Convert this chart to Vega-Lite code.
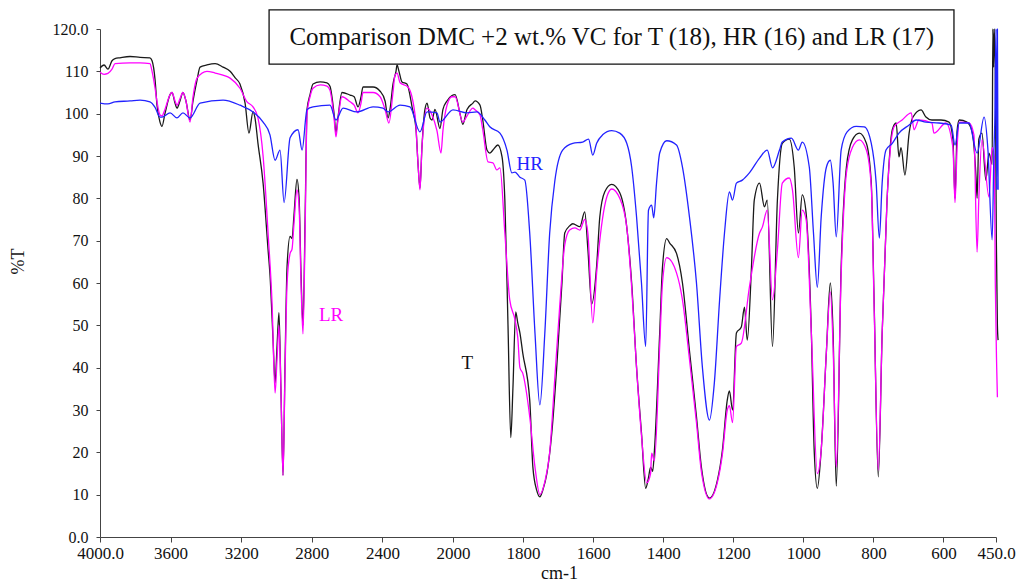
{
  "$schema": "https://vega.github.io/schema/vega-lite/v6.json",
  "autosize": {"type": "none"},
  "padding": {"left": 100, "top": 29, "right": 33, "bottom": 48},
  "width": 896,
  "height": 508,
  "background": "white",
  "config": {
    "font": "Liberation Serif",
    "view": {"stroke": null},
    "axis": {"grid": false, "domainColor": "#444444", "tickColor": "#444444", "labelColor": "#111111", "titleColor": "#111111", "labelFont": "Liberation Serif", "titleFont": "Liberation Serif", "titleFontWeight": "normal"}
  },
  "datasets": {
    "T": [
      {"w":4000,"v":110.8},{"w":3977,"v":111.5},{"w":3955,"v":110.5},{"w":3932,"v":112.5},{"w":3915,"v":113},{"w":3887,"v":113.2},{"w":3830,"v":113.5},{"w":3773,"v":113.3},{"w":3717,"v":113.2},{"w":3705,"v":112.5},{"w":3688,"v":108},{"w":3677,"v":102},{"w":3660,"v":98},{"w":3649,"v":97},{"w":3632,"v":100},{"w":3603,"v":104.5},{"w":3592,"v":105},{"w":3575,"v":102.5},{"w":3564,"v":101.3},{"w":3547,"v":103},{"w":3530,"v":105},{"w":3513,"v":103},{"w":3490,"v":98.5},{"w":3473,"v":103},{"w":3450,"v":108},{"w":3433,"v":111},{"w":3394,"v":111.5},{"w":3348,"v":111.8},{"w":3303,"v":111},{"w":3263,"v":110},{"w":3235,"v":108.5},{"w":3207,"v":107},{"w":3178,"v":102.5},{"w":3156,"v":95.4},{"w":3133,"v":100.5},{"w":3122,"v":99},{"w":3105,"v":93},{"w":3076,"v":83.6},{"w":3048,"v":68},{"w":3037,"v":62},{"w":3020,"v":47},{"w":3008,"v":36.4},{"w":2997,"v":45},{"w":2986,"v":53},{"w":2975,"v":35},{"w":2963,"v":14.6},{"w":2952,"v":40},{"w":2940,"v":64},{"w":2923,"v":71},{"w":2912,"v":70.5},{"w":2901,"v":76},{"w":2884,"v":84.5},{"w":2872,"v":80},{"w":2861,"v":62},{"w":2850,"v":50},{"w":2838,"v":75},{"w":2827,"v":101},{"w":2810,"v":104.5},{"w":2793,"v":107},{"w":2753,"v":107.5},{"w":2714,"v":107.3},{"w":2697,"v":106.5},{"w":2674,"v":100},{"w":2663,"v":95.5},{"w":2652,"v":99},{"w":2629,"v":105},{"w":2583,"v":104.4},{"w":2560,"v":104},{"w":2538,"v":101.6},{"w":2521,"v":104},{"w":2510,"v":106.3},{"w":2453,"v":106.3},{"w":2413,"v":105.3},{"w":2385,"v":103},{"w":2368,"v":99},{"w":2357,"v":101},{"w":2340,"v":107},{"w":2323,"v":110},{"w":2317,"v":111.5},{"w":2306,"v":110},{"w":2289,"v":107.5},{"w":2261,"v":107},{"w":2232,"v":101.6},{"w":2209,"v":96},{"w":2198,"v":88},{"w":2187,"v":82.4},{"w":2176,"v":92},{"w":2159,"v":101},{"w":2147,"v":102.5},{"w":2130,"v":99},{"w":2119,"v":98.5},{"w":2102,"v":101},{"w":2074,"v":96.5},{"w":2057,"v":101},{"w":2034,"v":103},{"w":2006,"v":104.3},{"w":1994,"v":104.5},{"w":1980,"v":100},{"w":1972,"v":97.5},{"w":1960,"v":101},{"w":1943,"v":102.5},{"w":1937,"v":103},{"w":1923,"v":102},{"w":1915,"v":98.5},{"w":1903,"v":91.4},{"w":1895,"v":90.7},{"w":1886,"v":91.4},{"w":1872,"v":92.6},{"w":1860,"v":89.8},{"w":1852,"v":79.6},{"w":1843,"v":50},{"w":1835,"v":23.5},{"w":1829,"v":35},{"w":1821,"v":53.2},{"w":1815,"v":50.5},{"w":1809,"v":48.2},{"w":1801,"v":43.5},{"w":1781,"v":32.4},{"w":1772,"v":16.5},{"w":1761,"v":11},{"w":1752,"v":9.5},{"w":1744,"v":11},{"w":1732,"v":15},{"w":1718,"v":24.6},{"w":1704,"v":40},{"w":1689,"v":60},{"w":1681,"v":71.8},{"w":1667,"v":73.5},{"w":1658,"v":74},{"w":1638,"v":73.3},{"w":1624,"v":76.8},{"w":1615,"v":68},{"w":1604,"v":55},{"w":1590,"v":64},{"w":1581,"v":75.6},{"w":1567,"v":81.5},{"w":1547,"v":83.3},{"w":1524,"v":81.3},{"w":1504,"v":73.2},{"w":1490,"v":60},{"w":1476,"v":40},{"w":1462,"v":24.6},{"w":1450,"v":11.5},{"w":1442,"v":14},{"w":1436,"v":16.5},{"w":1430,"v":15.5},{"w":1425,"v":20.5},{"w":1410,"v":48.2},{"w":1402,"v":63.8},{"w":1390,"v":70.5},{"w":1382,"v":69.5},{"w":1362,"v":67},{"w":1345,"v":60},{"w":1325,"v":44},{"w":1305,"v":28.4},{"w":1291,"v":16.5},{"w":1268,"v":9.2},{"w":1245,"v":13.5},{"w":1231,"v":20.5},{"w":1217,"v":32.4},{"w":1211,"v":34.5},{"w":1202,"v":30},{"w":1191,"v":48.2},{"w":1177,"v":49.6},{"w":1168,"v":54.3},{"w":1160,"v":46.5},{"w":1148,"v":63.8},{"w":1140,"v":79.6},{"w":1125,"v":83.6},{"w":1111,"v":78},{"w":1103,"v":79.6},{"w":1088,"v":45},{"w":1074,"v":79.6},{"w":1060,"v":93},{"w":1040,"v":94},{"w":1026,"v":87.4},{"w":1014,"v":71.8},{"w":1003,"v":80.8},{"w":992,"v":76.5},{"w":977,"v":48},{"w":969,"v":20.5},{"w":960,"v":11.5},{"w":949,"v":20.5},{"w":934,"v":44},{"w":923,"v":60},{"w":915,"v":48},{"w":906,"v":12},{"w":892,"v":63.8},{"w":877,"v":87.4},{"w":860,"v":93.8},{"w":840,"v":95.4},{"w":820,"v":93},{"w":806,"v":83.6},{"w":798,"v":56},{"w":786,"v":14.2},{"w":775,"v":48},{"w":761,"v":79.6},{"w":746,"v":96.2},{"w":735,"v":97.8},{"w":727,"v":89.8},{"w":721,"v":92},{"w":710,"v":85.5},{"w":698,"v":95.4},{"w":687,"v":99.2},{"w":664,"v":100.9},{"w":650,"v":99.2},{"w":633,"v":98.5},{"w":607,"v":98.5},{"w":584,"v":98},{"w":573,"v":94},{"w":567,"v":80},{"w":561,"v":96},{"w":555,"v":98.5},{"w":533,"v":98},{"w":519,"v":96},{"w":507,"v":85},{"w":504,"v":80},{"w":499,"v":94},{"w":490,"v":95.4},{"w":479,"v":84.3},{"w":470,"v":90.7},{"w":461,"v":88},{"w":459,"v":120},{"w":457,"v":111},{"w":455,"v":120},{"w":452,"v":110},{"w":449,"v":70},{"w":446,"v":50},{"w":444,"v":46.5}
    ],
    "LR": [
      {"w":4000,"v":109.8},{"w":3977,"v":109.3},{"w":3955,"v":109.5},{"w":3932,"v":110.5},{"w":3915,"v":111.8},{"w":3830,"v":112},{"w":3773,"v":112},{"w":3717,"v":111.8},{"w":3705,"v":110},{"w":3688,"v":106},{"w":3677,"v":102.8},{"w":3660,"v":99.7},{"w":3649,"v":99.5},{"w":3632,"v":101},{"w":3603,"v":104.5},{"w":3592,"v":105},{"w":3575,"v":103},{"w":3564,"v":102},{"w":3547,"v":103.5},{"w":3530,"v":105},{"w":3513,"v":103},{"w":3490,"v":98},{"w":3473,"v":104},{"w":3450,"v":108.4},{"w":3394,"v":110},{"w":3348,"v":109.6},{"w":3263,"v":108.4},{"w":3207,"v":106},{"w":3167,"v":102.8},{"w":3133,"v":101.6},{"w":3105,"v":99},{"w":3076,"v":90},{"w":3048,"v":72},{"w":3025,"v":55},{"w":3008,"v":34},{"w":2997,"v":42},{"w":2986,"v":50},{"w":2975,"v":35},{"w":2963,"v":14.5},{"w":2952,"v":38},{"w":2940,"v":60},{"w":2923,"v":67},{"w":2912,"v":68},{"w":2901,"v":74},{"w":2884,"v":82},{"w":2872,"v":78},{"w":2861,"v":60},{"w":2850,"v":48},{"w":2838,"v":72},{"w":2827,"v":100},{"w":2810,"v":104},{"w":2793,"v":106},{"w":2753,"v":106.8},{"w":2714,"v":106.5},{"w":2697,"v":105.5},{"w":2674,"v":99},{"w":2663,"v":94.5},{"w":2652,"v":98.5},{"w":2629,"v":104},{"w":2583,"v":102.8},{"w":2560,"v":102},{"w":2538,"v":100.2},{"w":2521,"v":102.5},{"w":2510,"v":105},{"w":2453,"v":105},{"w":2413,"v":104},{"w":2385,"v":101},{"w":2363,"v":97.8},{"w":2340,"v":105},{"w":2329,"v":109},{"w":2317,"v":109.6},{"w":2300,"v":107.3},{"w":2255,"v":106.3},{"w":2215,"v":99.7},{"w":2198,"v":88},{"w":2187,"v":82},{"w":2176,"v":92},{"w":2147,"v":101.3},{"w":2119,"v":99.7},{"w":2091,"v":96},{"w":2068,"v":90.7},{"w":2057,"v":96},{"w":2034,"v":102},{"w":2006,"v":104},{"w":1994,"v":104},{"w":1972,"v":98},{"w":1960,"v":99.5},{"w":1943,"v":101.3},{"w":1937,"v":100.9},{"w":1923,"v":99.7},{"w":1915,"v":96.2},{"w":1900,"v":88.6},{"w":1886,"v":88.4},{"w":1875,"v":86.7},{"w":1866,"v":87.2},{"w":1852,"v":71.8},{"w":1838,"v":56},{"w":1823,"v":51.3},{"w":1815,"v":47},{"w":1809,"v":40},{"w":1801,"v":38.7},{"w":1781,"v":28.4},{"w":1766,"v":16.5},{"w":1752,"v":10},{"w":1738,"v":13},{"w":1724,"v":20},{"w":1709,"v":38},{"w":1695,"v":55},{"w":1681,"v":69},{"w":1667,"v":72.5},{"w":1652,"v":73},{"w":1638,"v":72.5},{"w":1624,"v":75},{"w":1615,"v":71.8},{"w":1601,"v":50.6},{"w":1590,"v":62.4},{"w":1561,"v":80.3},{"w":1547,"v":82.2},{"w":1524,"v":80},{"w":1504,"v":73.2},{"w":1490,"v":59},{"w":1476,"v":40},{"w":1462,"v":24},{"w":1447,"v":12.8},{"w":1436,"v":15},{"w":1433,"v":19.8},{"w":1425,"v":18},{"w":1410,"v":45},{"w":1402,"v":60},{"w":1390,"v":66},{"w":1362,"v":62.4},{"w":1345,"v":56},{"w":1325,"v":42},{"w":1305,"v":27},{"w":1291,"v":15.5},{"w":1268,"v":9},{"w":1245,"v":13},{"w":1231,"v":19.5},{"w":1217,"v":30},{"w":1211,"v":31},{"w":1202,"v":27},{"w":1191,"v":45},{"w":1177,"v":45.8},{"w":1154,"v":59},{"w":1125,"v":71.8},{"w":1117,"v":73.2},{"w":1103,"v":77.2},{"w":1088,"v":56},{"w":1074,"v":67.8},{"w":1060,"v":83.6},{"w":1040,"v":84.8},{"w":1031,"v":82},{"w":1014,"v":66},{"w":1003,"v":77.2},{"w":992,"v":75},{"w":977,"v":48},{"w":960,"v":15},{"w":949,"v":20.5},{"w":934,"v":44},{"w":923,"v":57.9},{"w":915,"v":45},{"w":906,"v":16.5},{"w":892,"v":62},{"w":877,"v":86},{"w":860,"v":92},{"w":840,"v":93.8},{"w":820,"v":91.4},{"w":806,"v":82.7},{"w":798,"v":55},{"w":786,"v":15.8},{"w":775,"v":48},{"w":761,"v":79.6},{"w":741,"v":96.9},{"w":718,"v":98.5},{"w":692,"v":100.2},{"w":684,"v":96.2},{"w":670,"v":98.5},{"w":633,"v":97.8},{"w":627,"v":95.4},{"w":593,"v":97.8},{"w":573,"v":92},{"w":567,"v":79},{"w":561,"v":92},{"w":555,"v":98},{"w":527,"v":97.8},{"w":513,"v":95},{"w":504,"v":67.3},{"w":499,"v":80},{"w":490,"v":93.8},{"w":470,"v":80.3},{"w":461,"v":92},{"w":455,"v":90},{"w":452,"v":60},{"w":448,"v":40},{"w":446,"v":33}
    ],
    "HR": [
      {"w":4000,"v":102.5},{"w":3955,"v":102.3},{"w":3915,"v":102.8},{"w":3830,"v":103},{"w":3773,"v":103.2},{"w":3717,"v":102.8},{"w":3688,"v":101.5},{"w":3660,"v":99.2},{"w":3649,"v":99.2},{"w":3603,"v":100.2},{"w":3564,"v":99},{"w":3530,"v":100.2},{"w":3490,"v":99},{"w":3433,"v":102.5},{"w":3303,"v":103.2},{"w":3207,"v":102},{"w":3133,"v":100.4},{"w":3076,"v":98},{"w":3037,"v":95},{"w":3008,"v":89},{"w":2980,"v":91.4},{"w":2957,"v":79},{"w":2923,"v":94.3},{"w":2878,"v":96.2},{"w":2855,"v":91.4},{"w":2827,"v":101},{"w":2793,"v":101.6},{"w":2697,"v":102},{"w":2663,"v":98.5},{"w":2623,"v":101.3},{"w":2544,"v":100.4},{"w":2453,"v":101.6},{"w":2397,"v":101.3},{"w":2368,"v":100.4},{"w":2300,"v":102},{"w":2244,"v":101.6},{"w":2187,"v":95.7},{"w":2147,"v":100.4},{"w":2091,"v":100.2},{"w":2074,"v":98},{"w":2000,"v":100.9},{"w":1960,"v":100.2},{"w":1932,"v":100.4},{"w":1909,"v":98.5},{"w":1895,"v":96.9},{"w":1866,"v":95.4},{"w":1846,"v":91.4},{"w":1832,"v":86},{"w":1823,"v":86.2},{"w":1809,"v":85},{"w":1795,"v":84.3},{"w":1781,"v":71.8},{"w":1766,"v":48.2},{"w":1752,"v":31.2},{"w":1738,"v":48},{"w":1724,"v":71.8},{"w":1709,"v":84.3},{"w":1687,"v":91.4},{"w":1658,"v":93},{"w":1630,"v":93.3},{"w":1613,"v":94},{"w":1601,"v":90.2},{"w":1590,"v":93},{"w":1573,"v":95},{"w":1547,"v":96},{"w":1524,"v":95.4},{"w":1504,"v":93},{"w":1490,"v":87.4},{"w":1476,"v":75.6},{"w":1462,"v":60},{"w":1450,"v":45},{"w":1442,"v":77.2},{"w":1433,"v":78.4},{"w":1427,"v":75.4},{"w":1419,"v":83.6},{"w":1410,"v":90.7},{"w":1390,"v":93.6},{"w":1362,"v":92.6},{"w":1345,"v":87.4},{"w":1325,"v":75.6},{"w":1305,"v":60},{"w":1288,"v":40},{"w":1268,"v":27.6},{"w":1254,"v":36.4},{"w":1239,"v":56},{"w":1225,"v":71.8},{"w":1211,"v":81.5},{"w":1202,"v":79.6},{"w":1191,"v":83.6},{"w":1174,"v":84.3},{"w":1154,"v":86},{"w":1125,"v":89.5},{"w":1103,"v":91.4},{"w":1088,"v":87.2},{"w":1068,"v":91.4},{"w":1060,"v":93.3},{"w":1034,"v":94.2},{"w":1014,"v":91.4},{"w":1003,"v":93.3},{"w":983,"v":87.4},{"w":971,"v":71.8},{"w":960,"v":59},{"w":949,"v":75.6},{"w":934,"v":87.4},{"w":923,"v":89},{"w":915,"v":83.6},{"w":906,"v":70.9},{"w":892,"v":91.4},{"w":875,"v":95.7},{"w":849,"v":97},{"w":826,"v":96.9},{"w":806,"v":93},{"w":792,"v":83.6},{"w":783,"v":70.6},{"w":775,"v":83.6},{"w":764,"v":91.4},{"w":746,"v":93},{"w":727,"v":95.4},{"w":698,"v":97.3},{"w":678,"v":98.5},{"w":650,"v":98},{"w":613,"v":97.8},{"w":578,"v":97.3},{"w":567,"v":92.6},{"w":555,"v":97.8},{"w":527,"v":97.8},{"w":504,"v":90.7},{"w":484,"v":99.2},{"w":473,"v":91.4},{"w":461,"v":70.2},{"w":456,"v":90.7},{"w":453,"v":100},{"w":450,"v":120},{"w":448,"v":82},{"w":446,"v":120},{"w":444,"v":82}
    ],
    "labels": [
      {"w":1781,"v":88.2,"s":"HR"},
      {"w":2691,"v":52.4,"s":"LR"},
      {"w":1959,"v":41,"s":"T"}
    ],
    "box": [
      {"x1":3042,"x2":570,"y1":124.5,"y2":111.7,"tx":1547,"ty":116.3,"t":"Comparison DMC +2 wt.% VC for T (18), HR (16) and LR (17)"}
    ]
  },
  "encoding": {
    "x": {
      "field": "w", "type": "quantitative",
      "scale": {"type": "linear", "domain": [4000, 2000, 450], "range": [0, 353, 896], "nice": false, "zero": false},
      "axis": {
        "values": [4000, 3600, 3200, 2800, 2400, 2000, 1800, 1600, 1400, 1200, 1000, 800, 600, 450],
        "labelExpr": "datum.value == 4000 || datum.value == 450 ? format(datum.value, '.1f') : format(datum.value, 'd')",
        "labelFontSize": 17, "tickSize": 5, "labelPadding": 3, "labelFlush": false, "labelOverlap": false,
        "title": "cm-1", "titleFontSize": 18, "titleX": 459, "titleY": 41, "titleBaseline": "alphabetic", "titleAlign": "center"
      }
    },
    "y": {
      "field": "v", "type": "quantitative",
      "scale": {"domain": [0, 120], "nice": false, "zero": false},
      "axis": {
        "values": [0, 10, 20, 30, 40, 50, 60, 70, 80, 90, 100, 110, 120],
        "labelExpr": "datum.value == 0 || datum.value == 120 ? format(datum.value, '.1f') : format(datum.value, 'd')",
        "labelFontSize": 16, "tickSize": 4, "labelPadding": 8, "labelFlush": false, "labelOverlap": false,
        "title": "%T", "titleFontSize": 18, "titleX": -82, "titleY": 232, "titleAlign": "center", "titleBaseline": "middle"
      }
    }
  },
  "layer": [
    {"data": {"name": "T"}, "mark": {"type": "line", "color": "#1a1a1a", "strokeWidth": 1.3, "interpolate": "monotone", "clip": false}},
    {"data": {"name": "LR"}, "mark": {"type": "line", "color": "#ff00ff", "strokeWidth": 1.3, "interpolate": "monotone", "clip": false}},
    {"data": {"name": "HR"}, "mark": {"type": "line", "color": "#2222ff", "strokeWidth": 1.3, "interpolate": "monotone", "clip": false}},
    {
      "data": {"name": "box"},
      "mark": {"type": "rect", "fill": "white", "stroke": "#111111", "strokeWidth": 1.3},
      "encoding": {
        "x": {"field": "x1", "type": "quantitative"},
        "x2": {"field": "x2"},
        "y": {"field": "y1", "type": "quantitative"},
        "y2": {"field": "y2"}
      }
    },
    {
      "data": {"name": "box"},
      "mark": {"type": "text", "font": "Liberation Serif", "fontSize": 25, "align": "center", "baseline": "alphabetic", "color": "#111111"},
      "encoding": {
        "x": {"field": "tx", "type": "quantitative"},
        "y": {"field": "ty", "type": "quantitative"},
        "text": {"field": "t"}
      }
    },
    {
      "data": {"name": "labels"},
      "mark": {"type": "text", "font": "Liberation Serif", "fontSize": 19, "align": "center", "baseline": "middle"},
      "encoding": {
        "text": {"field": "s"},
        "color": {"field": "s", "type": "nominal", "scale": {"domain": ["T", "HR", "LR"], "range": ["#111111", "#2222ff", "#ff00ff"]}, "legend": null}
      }
    }
  ]
}
